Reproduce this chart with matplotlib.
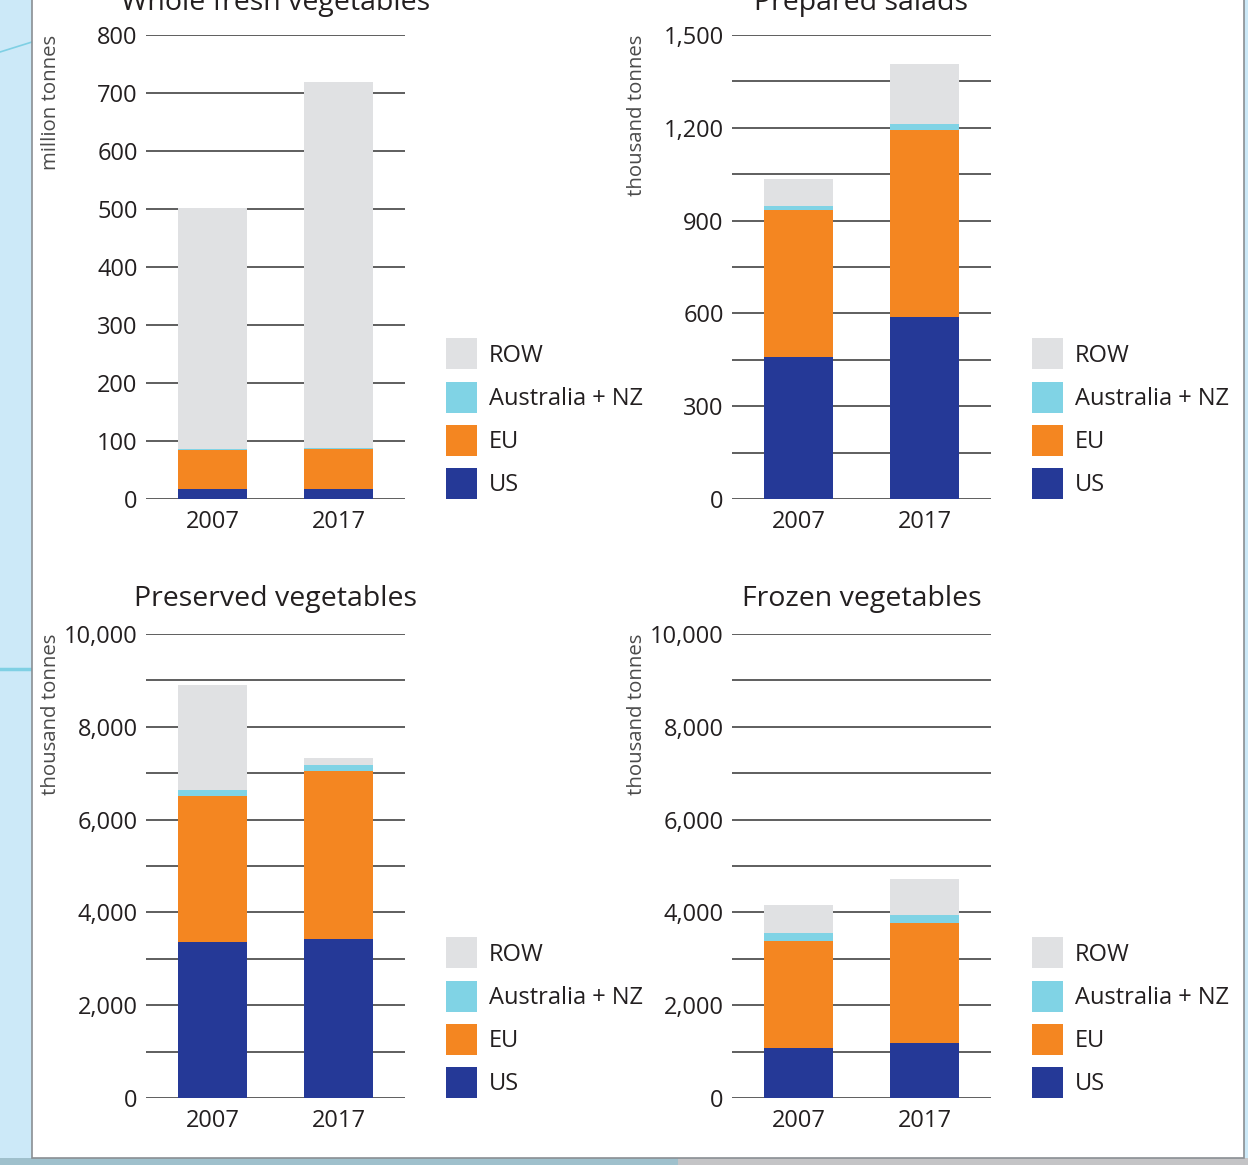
import matplotlib
matplotlib.use("Agg")
import matplotlib.pyplot as plt
import matplotlib.ticker as mticker
from matplotlib.patches import Patch, Rectangle
from matplotlib.lines import Line2D
import numpy as np

plt.rcParams['font.family'] = ['Open Sans', 'DejaVu Sans']

W, H = 1248, 1165

years = ['2007', '2017']
regions = ['US', 'EU', 'Australia + NZ', 'ROW']
colors = {'US': '#253997', 'EU': '#f48621', 'Australia + NZ': '#80d3e5', 'ROW': '#e0e1e3'}

# stacked segment values per region, [2007, 2017]
whole_fresh = {'US': [17, 17], 'EU': [68, 69], 'Australia + NZ': [1.5, 2], 'ROW': [415.5, 631]}
prepared_salads = {'US': [459, 589], 'EU': [475, 604], 'Australia + NZ': [13, 19], 'ROW': [88, 194]}
preserved = {'US': [3360, 3430], 'EU': [3145, 3615], 'Australia + NZ': [130, 130], 'ROW': [2270, 150]}
frozen = {'US': [1080, 1185], 'EU': [2305, 2585], 'Australia + NZ': [170, 175], 'ROW': [605, 775]}

panels = [
    # title, data, unit, ymax, major, minor, axes box in px (left, top), title pad
    ('Whole fresh vegetables', whole_fresh, 'million tonnes', 800, 100, 100, (146, 35), 18),
    ('Prepared salads', prepared_salads, 'thousand tonnes', 1500, 300, 150, (732, 35), 18),
    ('Preserved vegetables', preserved, 'thousand tonnes', 10000, 2000, 1000, (146, 634), 20),
    ('Frozen vegetables', frozen, 'thousand tonnes', 10000, 2000, 1000, (732, 634), 20),
]

fig = plt.figure(figsize=(W / 100, H / 100), dpi=100)
fig.patch.set_facecolor('#cce9f8')

# white page with shadow strip underneath
fig.patches.append(Rectangle((0, 0), 678 / W, 7 / H, transform=fig.transFigure,
                             facecolor='#9fc0cc', edgecolor='none', zorder=0))
fig.patches.append(Rectangle((678 / W, 0), 1 - 678 / W, 7 / H, transform=fig.transFigure,
                             facecolor='#c4c4c6', edgecolor='none', zorder=0))
fig.patches.append(Rectangle((32 / W, 1 - 1158 / H), 1212 / W, 1158 / H + 0.01,
                             transform=fig.transFigure, facecolor='white',
                             edgecolor='#8a8f93', linewidth=1.2, zorder=1))
fig.lines.append(Line2D([0, 32 / W], [1 - 52 / H, 1 - 42 / H], transform=fig.transFigure,
                        color='#7fd0e4', linewidth=1.2, zorder=1))
fig.lines.append(Line2D([0, 32 / W], [1 - 669 / H, 1 - 669 / H], transform=fig.transFigure,
                        color='#7fd0e4', linewidth=2.5, zorder=1))

x = np.arange(len(years))
txt = '#231f20'

for title, data, unit, ymax, major, minor, (px, py), tpad in panels:
    ax = fig.add_axes([px / W, 1 - (py + 464) / H, 259 / W, 464 / H])
    ax.set_zorder(2)
    ax.patch.set_alpha(0)
    bottom = np.zeros(len(years))
    for r in regions:
        vals = np.array(data[r], dtype=float)
        ax.bar(x, vals, width=0.548, bottom=bottom, color=colors[r], zorder=3)
        bottom += vals
    ax.set_xlim(-0.528, 1.528)
    ax.set_ylim(0, ymax)
    ax.yaxis.set_major_locator(mticker.MultipleLocator(major))
    ax.yaxis.set_minor_locator(mticker.MultipleLocator(minor))
    ax.yaxis.set_major_formatter(mticker.FuncFormatter(lambda v, p: f'{int(v):,}'))
    ax.grid(True, which='both', axis='y', color='#333333', linewidth=1.1)
    ax.set_axisbelow(True)
    for s in ax.spines.values():
        s.set_visible(False)
    ax.set_xticks(x)
    ax.set_xticklabels(years)
    ax.tick_params(axis='both', which='both', length=0, labelsize=17, colors=txt)
    ax.tick_params(axis='y', pad=6)
    ax.tick_params(axis='x', pad=8)
    ax.set_title(title, fontsize=20.5, color=txt, pad=tpad)
    fig.text((px - 95) / W, 1 - py / H, unit, rotation=90, ha='center', va='top',
             fontsize=14.7, color='#4a4a4a')

    handles = [Patch(facecolor=colors[r], edgecolor='none') for r in regions[::-1]]
    ax.legend(handles, regions[::-1], loc='lower left',
              bbox_to_anchor=((px + 300) / W, 1 - (py + 464) / H),
              bbox_transform=fig.transFigure, frameon=False, fontsize=17,
              handlelength=1.31, handleheight=1.64, labelspacing=0.52,
              handletextpad=0.5, borderpad=0, borderaxespad=0, labelcolor=txt)

fig.savefig('out.png', dpi=100, facecolor=fig.get_facecolor())
